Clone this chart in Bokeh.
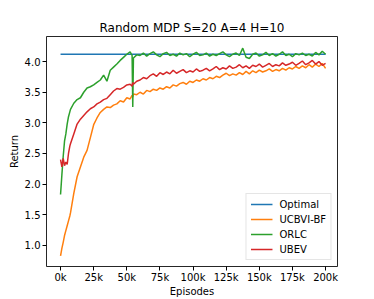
from bokeh.plotting import figure
from bokeh.models import Range1d, FixedTicker, Legend, LegendItem
from bokeh.embed import file_html
from bokeh.resources import INLINE

title_text = "Random MDP S=20 A=4 H=10"
x_label = "Episodes"
y_label = "Return"

episodes = (list(range(0, 7001, 1000)) + list(range(7500, 52501, 2500))
            + [54000, 54500, 55000] + list(range(57500, 200001, 2500)))

optimal_x = [0, 200000]
optimal_return = [4.12, 4.12]

ucbvi_bf = [
    0.83, 0.95, 1.05, 1.16, 1.24, 1.32, 1.40, 1.48,
    1.53, 1.85, 2.12, 2.28, 2.44, 2.55, 2.76, 2.97, 3.08, 3.17, 3.22, 3.26,
    3.25, 3.29, 3.31, 3.36, 3.34, 3.41, 3.39,
    3.45, 3.42, 3.47,
    3.46,
    3.50, 3.47, 3.53, 3.51, 3.55, 3.53, 3.57, 3.55, 3.59, 3.57,
    3.62, 3.60, 3.64, 3.66, 3.63, 3.68, 3.66, 3.70, 3.68, 3.72,
    3.70, 3.74, 3.72, 3.76, 3.74, 3.78, 3.81, 3.77, 3.80, 3.78,
    3.82, 3.79, 3.84, 3.80, 3.85, 3.82, 3.86, 3.83, 3.85, 3.88,
    3.84, 3.87, 3.85, 3.89, 3.86, 3.90, 3.88, 3.92, 3.89, 3.93,
    3.90, 3.95, 3.91, 3.96, 3.92, 3.97, 3.89,
]

orlc = [
    1.83, 2.15, 2.45, 2.70, 2.82, 2.98, 3.10, 3.18,
    3.22, 3.32, 3.38, 3.41, 3.50, 3.57, 3.59, 3.62, 3.66, 3.70, 3.78, 3.68,
    3.86, 3.91, 3.96, 4.02, 4.07, 4.12, 4.16,
    4.10, 3.26, 4.06,
    4.11,
    4.10, 4.14, 4.09, 4.13, 4.16, 4.11, 4.08, 4.13, 4.15, 4.10,
    4.12, 4.09, 4.14, 4.11, 4.13, 4.08, 4.12, 4.15, 4.10, 4.11,
    4.14, 4.09, 4.12, 4.10, 4.13, 4.16, 4.11, 4.08, 4.12, 4.14,
    4.10, 4.22, 4.07, 4.05, 4.12, 4.14, 4.09, 4.11, 4.15, 4.10,
    4.13, 4.09, 4.12, 4.16, 4.10, 4.12, 4.08, 4.13, 4.11, 4.14,
    4.10, 4.12, 4.09, 4.15, 4.11, 4.17, 4.12,
]

ubev = [
    2.40, 2.28, 2.42, 2.30, 2.36, 2.32, 2.50, 2.62,
    2.66, 2.82, 2.98, 3.06, 3.12, 3.18, 3.23, 3.26, 3.31, 3.34, 3.38, 3.40,
    3.46, 3.52, 3.56, 3.55, 3.58, 3.62, 3.63,
    3.60, 3.66, 3.63,
    3.68,
    3.70, 3.74, 3.72, 3.77, 3.80, 3.76, 3.82, 3.79, 3.83, 3.80,
    3.86, 3.81, 3.84, 3.87, 3.82, 3.85, 3.83, 3.88, 3.84, 3.86,
    3.89, 3.85, 3.88, 3.92, 3.87, 3.90, 3.88, 3.93, 3.89, 3.91,
    3.95, 3.90, 3.93, 3.89, 3.94, 3.92, 3.96, 3.91, 3.94, 3.97,
    3.92, 3.95, 3.93, 3.98, 3.94, 3.96, 3.99, 3.94, 3.97, 4.01,
    3.95, 3.98, 4.02, 3.96, 4.00, 3.94, 3.97,
]

x_ticks = [0, 25000, 50000, 75000, 100000, 125000, 150000, 175000, 200000]
x_tick_labels = ["0k", "25k", "50k", "75k", "100k", "125k", "150k", "175k", "200k"]
y_ticks = [1.0, 1.5, 2.0, 2.5, 3.0, 3.5, 4.0]
y_tick_labels = ["1.0", "1.5", "2.0", "2.5", "3.0", "3.5", "4.0"]

series_names = ["Optimal", "UCBVI-BF", "ORLC", "UBEV"]
colors = ["#1f77b4", "#ff7f0e", "#2ca02c", "#d62728"]

FONT = "DejaVu Sans"

p = figure(width=374, height=299, output_backend="svg", toolbar_location=None,
           x_range=Range1d(-10600, 209000), y_range=Range1d(0.655, 4.41),
           title=title_text, min_border_left=46, min_border_right=37,
           min_border_top=36, min_border_bottom=28)

p.title.align = "center"
p.title.text_font = FONT
p.title.text_font_size = "12px"
p.title.text_font_style = "normal"
p.title.text_color = "black"
p.title.standoff = 4

p.grid.visible = False
p.outline_line_color = "black"
p.outline_line_width = 1
p.outline_line_alpha = 0.85
p.background_fill_color = "white"
p.border_fill_color = "white"

for ax in (p.xaxis[0], p.yaxis[0]):
    ax.axis_line_color = None
    ax.major_tick_in = 0
    ax.major_tick_out = 4
    ax.minor_tick_line_color = None
    ax.major_tick_line_color = "black"
    ax.major_label_text_font = FONT
    ax.major_label_text_font_size = "10px"
    ax.major_label_text_color = "black"
    ax.major_label_standoff = 2
    ax.axis_label_text_font = FONT
    ax.axis_label_text_font_size = "10px"
    ax.axis_label_text_font_style = "normal"
    ax.axis_label_text_color = "black"
    ax.axis_label_standoff = 2

p.xaxis[0].axis_label_standoff = 0
p.xaxis[0].major_label_standoff = 1

p.xaxis[0].ticker = FixedTicker(ticks=x_ticks)
p.xaxis[0].major_label_overrides = {t: l for t, l in zip(x_ticks, x_tick_labels)}
p.yaxis[0].ticker = FixedTicker(ticks=y_ticks)
p.yaxis[0].major_label_overrides = {t: l for t, l in zip(y_ticks, y_tick_labels)}
p.xaxis[0].axis_label = x_label
p.yaxis[0].axis_label = y_label

r0 = p.line(optimal_x, optimal_return, line_color=colors[0], line_width=1.5)
r1 = p.line(episodes, ucbvi_bf, line_color=colors[1], line_width=1.5)
r2 = p.line(episodes, orlc, line_color=colors[2], line_width=1.5)
r3 = p.line(episodes, ubev, line_color=colors[3], line_width=1.5)

legend = Legend(items=[LegendItem(label=n, renderers=[r]) for n, r in zip(series_names, [r0, r1, r2, r3])],
                location="bottom_right")
legend.label_text_font = FONT
legend.label_text_font_size = "10px"
legend.label_text_color = "black"
legend.glyph_width = 22
legend.glyph_height = 12
legend.label_height = 12
legend.label_standoff = 7
legend.spacing = 3
legend.padding = 4
legend.margin = 6
legend.border_line_color = "#cccccc"
legend.border_line_width = 1
legend.background_fill_alpha = 0.8
p.add_layout(legend)

open("out.html", "w").write(file_html(p, INLINE))
